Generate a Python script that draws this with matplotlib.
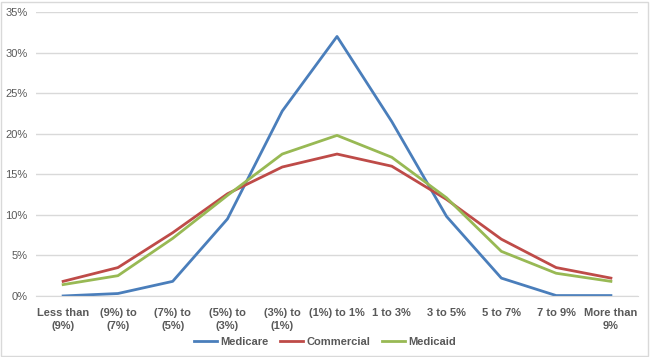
import matplotlib.pyplot as plt
from matplotlib.patches import Rectangle
from matplotlib.ticker import FuncFormatter

# categories and series
categories = ['Less than\n(9%)', '(9%) to\n(7%)', '(7%) to\n(5%)', '(5%) to\n(3%)',
              '(3%) to\n(1%)', '(1%) to 1%', '1 to 3%', '3 to 5%', '5 to 7%',
              '7 to 9%', 'More than\n9%']
medicare = [0.0, 0.3, 1.8, 9.5, 22.8, 32.0, 21.5, 9.8, 2.2, 0.05, 0.05]
commercial = [1.8, 3.5, 7.8, 12.6, 15.9, 17.5, 16.0, 11.9, 7.0, 3.5, 2.2]
medicaid = [1.4, 2.5, 7.1, 12.4, 17.5, 19.8, 17.1, 12.1, 5.5, 2.8, 1.8]

plt.rcParams['font.family'] = ['Liberation Sans', 'DejaVu Sans']
grey = '#595959'

fig = plt.figure(figsize=(6.5, 3.57), dpi=100)
ax = fig.add_axes([0.055, 0.171, 0.927, 0.795])

x = range(len(categories))
ax.plot(x, medicare, color='#4A7EBB', lw=2, label='Medicare')
ax.plot(x, commercial, color='#BE4B48', lw=2, label='Commercial')
ax.plot(x, medicaid, color='#98B954', lw=2, label='Medicaid')

ax.set_xlim(-0.5, len(categories) - 0.5)
ax.set_ylim(0, 35)
ax.set_yticks(range(0, 36, 5))
ax.yaxis.set_major_formatter(FuncFormatter(lambda v, p: f'{int(v)}%'))
ax.set_xticks(list(x))
ax.set_xticklabels(categories, fontsize=8, fontweight='bold', color=grey, linespacing=1.3)
for lbl in ax.get_yticklabels():
    lbl.set_fontsize(8)
    lbl.set_color(grey)

ax.grid(axis='y', color='#D9D9D9', lw=1)
ax.set_axisbelow(True)
for s in ['top', 'right', 'left']:
    ax.spines[s].set_visible(False)
ax.spines['bottom'].set_color('#D9D9D9')
ax.tick_params(axis='x', length=0, pad=9)
ax.tick_params(axis='y', length=0, pad=6)

leg = fig.legend(loc='center', bbox_to_anchor=(0.5, 0.043), ncol=3, frameon=False,
                 prop={'size': 8, 'weight': 'bold'}, handlelength=2.1, columnspacing=1.0,
                 handletextpad=0.3)
for t in leg.get_texts():
    t.set_color(grey)

# chart border
fig.patches.append(Rectangle((0.002, 0.003), 0.995, 0.992, transform=fig.transFigure,
                             fill=False, edgecolor='#D9D9D9', lw=1))

fig.savefig('out.png', dpi=100)
